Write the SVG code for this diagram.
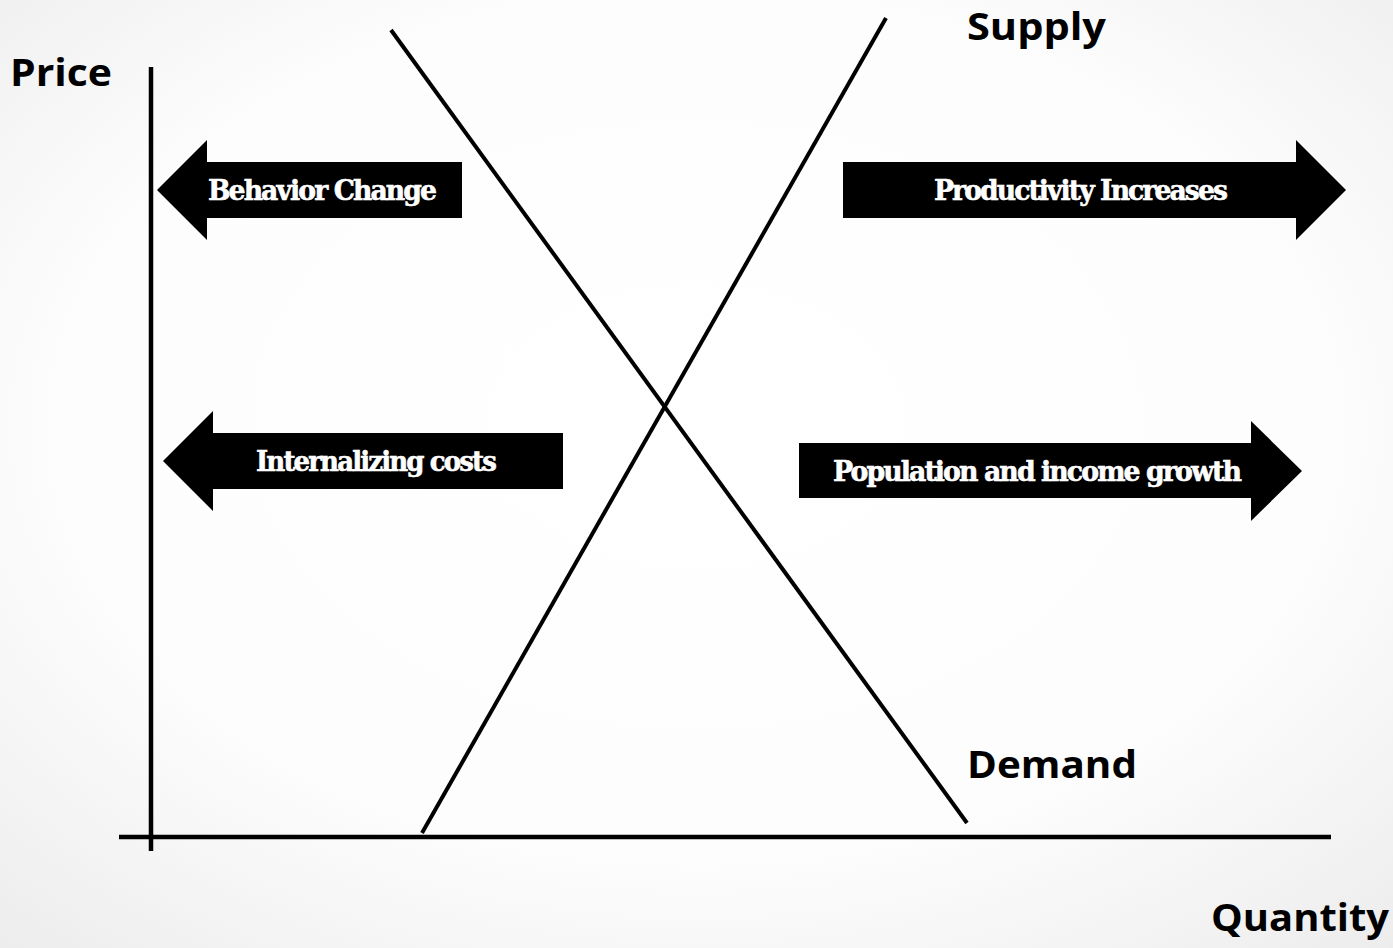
<svg xmlns="http://www.w3.org/2000/svg" width="1393" height="948" viewBox="0 0 1393 948">
<defs>
<radialGradient id="bg" cx="50%" cy="45%" r="75%">
<stop offset="0" stop-color="#ffffff"/>
<stop offset="0.6" stop-color="#fdfdfd"/>
<stop offset="1" stop-color="#ececec"/>
</radialGradient>
<style>
.ax{stroke:#000;stroke-width:4.5;fill:none}
.ln{stroke:#000;stroke-width:4;fill:none}
.arr{fill:#000}
.at{font-family:"DejaVu Serif","Liberation Serif",serif;font-weight:bold;fill:#fff;stroke:#fff;stroke-width:0.6;font-size:28px;letter-spacing:-2px}
.lb{font-family:"Open Sans","Liberation Sans",sans-serif;font-weight:bold;fill:#000;font-size:37px}
</style>
</defs>
<rect width="1393" height="948" fill="url(#bg)"/>
<g id="axes">
<line class="ax" x1="151" y1="67" x2="151" y2="851"/>
<line class="ax" x1="119" y1="837" x2="1331" y2="837"/>
</g>
<g id="connectors">
<line id="demand-line" class="ln" x1="391" y1="30" x2="967" y2="823"/>
<line id="supply-line" class="ln" x1="422" y1="833" x2="886" y2="18"/>
</g>
<g id="behavior-change">
<polygon class="arr" points="157,190 207,140 207,162 462,162 462,218 207,218 207,240"/>
<text class="at" x="208" y="200" textLength="227" lengthAdjust="spacingAndGlyphs">Behavior Change</text>
</g>
<g id="productivity-increases">
<polygon class="arr" points="843,162 1296,162 1296,140 1346,190 1296,240 1296,218 843,218"/>
<text class="at" x="934" y="200" textLength="292" lengthAdjust="spacingAndGlyphs">Productivity Increases</text>
</g>
<g id="internalizing-costs">
<polygon class="arr" points="163,461 213,411 213,433 563,433 563,489 213,489 213,511"/>
<text class="at" x="256" y="471" textLength="239" lengthAdjust="spacingAndGlyphs">Internalizing costs</text>
</g>
<g id="population-growth">
<polygon class="arr" points="799,443 1251,443 1251,421 1302,471 1251,521 1251,498 799,498"/>
<text class="at" x="833" y="481" textLength="407" lengthAdjust="spacingAndGlyphs">Population and income growth</text>
</g>
<g id="labels">
<text id="price" class="lb" x="10" y="86" textLength="102" lengthAdjust="spacingAndGlyphs">Price</text>
<text id="supply" class="lb" x="967" y="40" textLength="139" lengthAdjust="spacingAndGlyphs">Supply</text>
<text id="demand" class="lb" x="967" y="778" textLength="170" lengthAdjust="spacingAndGlyphs">Demand</text>
<text id="quantity" class="lb" x="1211" y="931" textLength="178" lengthAdjust="spacingAndGlyphs">Quantity</text>
</g>
</svg>
